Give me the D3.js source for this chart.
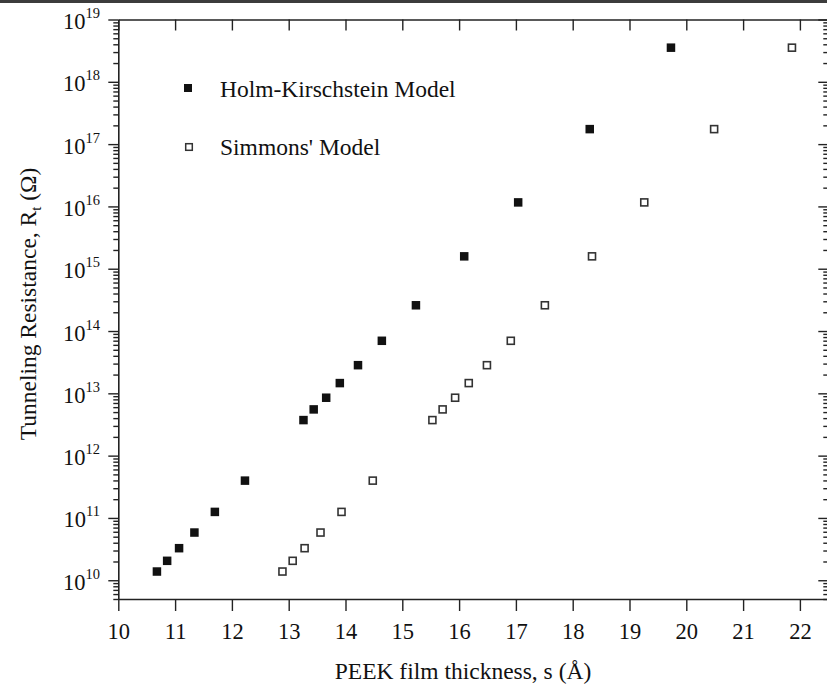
<!DOCTYPE html>
<html>
<head>
<meta charset="utf-8">
<script src="https://cdn.jsdelivr.net/npm/d3@7"></script>
<style>
  html, body { margin: 0; padding: 0; background: #fff; }
  svg { display: block; }
  text { font-family: "Liberation Serif", "Times New Roman", serif; fill: #111; }
</style>
</head>
<body>
<svg id="chart" width="827" height="684"></svg>
<script>
// ---- data ----
const thicknessHK = [10.68, 10.86, 11.07, 11.34, 11.70, 12.23, 13.26, 13.44, 13.66, 13.90, 14.22, 14.64, 15.24, 16.09, 17.04, 18.30, 19.73];
const thicknessSimmons = [12.89, 13.07, 13.28, 13.56, 13.93, 14.48, 15.53, 15.71, 15.93, 16.17, 16.49, 16.91, 17.51, 18.34, 19.26, 20.49, 21.86];
const resistance = [1.38e10, 2.05e10, 3.27e10, 5.83e10, 1.25e11, 3.97e11, 3.72e12, 5.52e12, 8.5e12, 1.46e13, 2.83e13, 6.97e13, 2.59e14, 1.58e15, 1.16e16, 1.74e17, 3.53e18];
const seriesNames = ["Holm-Kirschstein Model", "Simmons' Model"];
const xTicks = [10, 11, 12, 13, 14, 15, 16, 17, 18, 19, 20, 21, 22];
const yExponents = [10, 11, 12, 13, 14, 15, 16, 17, 18, 19];
const xDomain = [10, 22.5];
const yDomain = [5e9, 1e19];
const xTitle = "PEEK film thickness, s (Å)";

(function () {
// ---- layout ----
const svg = d3.select("#chart");
const pL = 118.3, pR = 828.3, pT = 19.5, pB = 599;
const ink = "#222";

svg.append("rect").attr("x", 0).attr("y", 0).attr("width", 827).attr("height", 3).attr("fill", "#3c3c3c");

const x = d3.scaleLinear().domain(xDomain).range([pL, pR]);
const y = d3.scaleLog().domain(yDomain).range([pB, pT]);

// minor log ticks
const minorVals = [];
for (let e = 9; e <= 18; e++) {
  for (let m = 2; m <= 9; m++) {
    const v = m * Math.pow(10, e);
    if (v >= yDomain[0] && v <= yDomain[1]) minorVals.push(v);
  }
}
const majorVals = yExponents.map(e => Math.pow(10, e));

// bottom axis
const gB = svg.append("g").attr("transform", `translate(0,${pB})`)
  .call(d3.axisBottom(x).tickValues(xTicks).tickSize(12).tickSizeOuter(0).tickFormat(d3.format("d")));
gB.selectAll("text").attr("y", 33).attr("dy", "0.32em").attr("fill", "#111")
  .style("font-size", "22.5px").style("font-family", "Liberation Serif");

// top axis (ticks inward)
svg.append("g").attr("transform", `translate(0,${pT})`)
  .call(d3.axisTop(x).tickValues(xTicks).tickSize(-11).tickSizeOuter(0).tickFormat(""));

// left axis
svg.append("g").attr("transform", `translate(${pL},0)`)
  .call(d3.axisLeft(y).tickValues(majorVals).tickSize(10).tickSizeOuter(0).tickFormat(""));
svg.append("g").attr("transform", `translate(${pL},0)`)
  .call(d3.axisLeft(y).tickValues(minorVals).tickSize(5).tickSizeOuter(0).tickFormat(""))
  .select(".domain").remove();

// right axis (ticks inward)
svg.append("g").attr("transform", `translate(${pR},0)`)
  .call(d3.axisRight(y).tickValues(majorVals).tickSize(-10).tickSizeOuter(0).tickFormat(""));
svg.append("g").attr("transform", `translate(${pR},0)`)
  .call(d3.axisRight(y).tickValues(minorVals).tickSize(-5).tickSizeOuter(0).tickFormat(""))
  .select(".domain").remove();

svg.selectAll(".domain").attr("stroke", ink).attr("stroke-width", 1.6);
svg.selectAll(".tick line").attr("stroke", ink).attr("stroke-width", 1.4);

// y tick labels with superscripts
const yl = svg.append("g");
yExponents.forEach(e => {
  const t = yl.append("text")
    .attr("x", 100).attr("y", y(Math.pow(10, e)) + 9.5)
    .attr("text-anchor", "end").style("font-size", "22.5px");
  t.append("tspan").text("10");
  t.append("tspan").attr("dy", -11).style("font-size", "14.5px").text(String(e));
});

// axis titles
svg.append("text").attr("x", 463).attr("y", 679).attr("text-anchor", "middle")
  .style("font-size", "23.5px").text(xTitle);

const yt = svg.append("text").attr("transform", "translate(36,304) rotate(-90)")
  .attr("text-anchor", "middle").style("font-size", "23.5px");
yt.append("tspan").text("Tunneling Resistance, R");
yt.append("tspan").attr("dy", 5).style("font-size", "14.5px").text("t");
yt.append("tspan").attr("dy", -5).text(" (Ω)");

// data markers
const hk = thicknessHK.map((t, i) => ({ t, r: resistance[i] }));
const sm = thicknessSimmons.map((t, i) => ({ t, r: resistance[i] }));
const fs = 8.5, os = 7;
svg.append("g").selectAll("rect").data(hk).join("rect")
  .attr("x", d => x(d.t) - fs / 2).attr("y", d => y(d.r) - fs / 2)
  .attr("width", fs).attr("height", fs).attr("fill", "#111");
svg.append("g").selectAll("rect").data(sm).join("rect")
  .attr("x", d => x(d.t) - os / 2).attr("y", d => y(d.r) - os / 2)
  .attr("width", os).attr("height", os).attr("fill", "#fff")
  .attr("stroke", "#333").attr("stroke-width", 1.6);

// legend
const lg = svg.append("g");
lg.append("rect").attr("x", 188 - 4).attr("y", 88 - 4).attr("width", 8).attr("height", 8).attr("fill", "#111");
lg.append("text").attr("x", 220).attr("y", 96.5).style("font-size", "23.5px").text(seriesNames[0]);
lg.append("rect").attr("x", 189 - 3.3).attr("y", 147 - 3.3).attr("width", 6.6).attr("height", 6.6)
  .attr("fill", "#fff").attr("stroke", "#333").attr("stroke-width", 1.5);
lg.append("text").attr("x", 220).attr("y", 155).style("font-size", "23.5px").text(seriesNames[1]);
})();
</script>
</body>
</html>
